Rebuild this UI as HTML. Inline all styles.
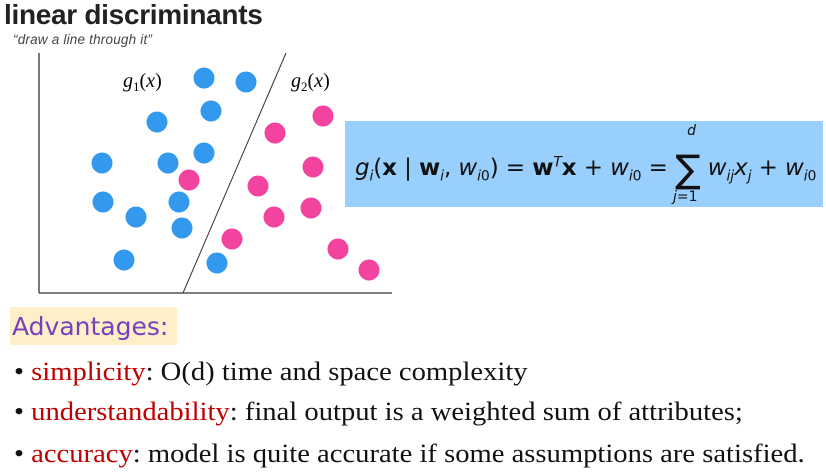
<!DOCTYPE html>
<html><head><meta charset="utf-8"><style>
body{margin:0;width:826px;height:476px;background:#fff;position:relative;overflow:hidden;font-family:"Liberation Sans",sans-serif}
.abs{position:absolute}
.bul{position:absolute;left:14px;font-family:"Liberation Serif",serif;font-size:26px;color:#111;white-space:nowrap;transform:scaleX(1.1);transform-origin:0 0}
.bul b{font-weight:normal;color:#c00000}
.s{font-size:14px}
</style></head><body>
<div class="abs" style="left:4px;top:-1px;font-size:28px;font-weight:bold;color:#222;letter-spacing:-0.3px">linear discriminants</div>
<div class="abs" style="left:13px;top:32px;font-size:13.5px;font-style:italic;color:#444;letter-spacing:0.2px">“draw a line through it”</div>
<svg class="abs" style="left:0;top:0" width="400" height="300">
<g id="marks"></g>
<text x="123" y="87" font-family="Liberation Serif,serif" font-size="20" font-style="italic">g<tspan font-size="13" font-style="normal" dy="4">1</tspan><tspan dy="-4" font-style="normal">(</tspan>x<tspan font-style="normal">)</tspan></text>
<text x="291" y="87" font-family="Liberation Serif,serif" font-size="20" font-style="italic">g<tspan font-size="13" font-style="normal" dy="4">2</tspan><tspan dy="-4" font-style="normal">(</tspan>x<tspan font-style="normal">)</tspan></text>
</svg>
<div class="abs" style="left:345px;top:121px;width:478px;height:86px;background:#99cffc"></div>
<div class="abs" style="left:355px;top:147px;font-family:'DejaVu Sans',sans-serif;font-size:23px;color:#111;white-space:nowrap;letter-spacing:-0.1px"><i>g<sub class="s">i</sub></i>(<b>x</b> | <b>w</b><sub class="s"><i>i</i></sub>, <i>w</i><sub class="s"><i>i</i>0</sub>) = <b>w</b><sup class="s"><i>T</i></sup><b>x</b> + <i>w</i><sub class="s"><i>i</i>0</sub> = <span style="position:relative;display:inline-block"><span style="font-size:38px;vertical-align:-7px">∑</span><span style="position:absolute;left:12px;top:-24px;font-size:14px;font-style:italic">d</span></span> <i>w<sub class="s">ij</sub>x<sub class="s">j</sub></i> + <i>w</i><sub class="s"><i>i</i>0</sub></div>
<div class="abs" style="left:673px;top:189px;font-family:'DejaVu Sans',sans-serif;font-size:14px;color:#111"><i>j</i>=1</div>
<div class="abs" style="left:10px;top:307px;width:165px;height:38px;background:#fdefc7;font-family:'Comic Sans MS','DejaVu Sans',sans-serif;font-size:25px;color:#7a3fbf;line-height:40px;padding-left:2px">Advantages:</div>
<div class="bul" style="top:357px">• <b>simplicity</b>: O(d) time and space complexity</div>
<div class="bul" style="top:397px">• <b>understandability</b>: final output is a weighted sum of attributes;</div>
<div class="bul" style="top:439px">• <b>accuracy</b>: model is quite accurate if some assumptions are satisfied.</div>
<script>
const blueX=[165,207,172,118,165,129,63,64,97,140,143,85,178];
const blueY=[215,211,182,171,140,130,130,91,76,91,65,33,30];
const pinkX=[284,236,150,274,219,272,235,193,299,330];
const pinkY=[177,160,113,126,107,85,76,54,44,23];
const ox=39, oy=293;
const sx=v=>ox+v, sy=v=>oy-v;
const ns='http://www.w3.org/2000/svg';
const g=document.getElementById('marks');
function line(x1,y1,x2,y2,name,w){const l=document.createElementNS(ns,'line');l.setAttribute('x1',x1);l.setAttribute('y1',y1);l.setAttribute('x2',x2);l.setAttribute('y2',y2);l.setAttribute('stroke','#333');l.setAttribute('stroke-width',w);


g.appendChild(l);}
line(sx(0),sy(240),sx(0),sy(0),'y-axis',1.3);
line(sx(0),sy(0),sx(353),sy(0),'x-axis',1.3);
line(sx(144),sy(0),sx(247),sy(240),'decision-boundary',1);
function dots(xs,ys,col,name){xs.forEach((x,i)=>{const c=document.createElementNS(ns,'circle');c.setAttribute('cx',sx(x));c.setAttribute('cy',sy(ys[i]));c.setAttribute('r',10.5);c.setAttribute('fill',col);


g.appendChild(c);});}
dots(blueX,blueY,'#3399ee','blue-point');
dots(pinkX,pinkY,'#f2449f','pink-point');
</script>
</body></html>
